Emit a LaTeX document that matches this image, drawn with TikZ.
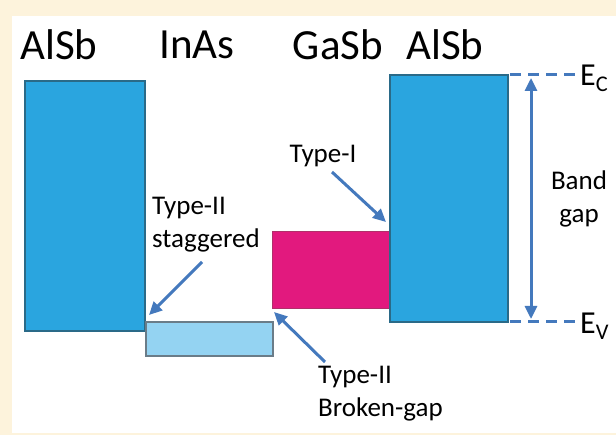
\documentclass[tikz,border=0pt]{standalone}
\usepackage{fontspec}
\setmainfont{Carlito}
\usetikzlibrary{arrows.meta}
\definecolor{beige}{HTML}{FDF3DC}
\definecolor{bandblue}{HTML}{2AA5DF}
\definecolor{bandedge}{HTML}{2A6A88}
\definecolor{lightband}{HTML}{94D3F2}
\definecolor{lightedge}{HTML}{6A7C88}
\definecolor{magenta2}{HTML}{E2197E}
\definecolor{magedge}{HTML}{B0306A}
\definecolor{arrowblue}{HTML}{4479BD}
\tikzset{
  bandbox/.style={draw=bandedge, fill=bandblue, line width=1.5pt, inner sep=0pt, outer sep=0pt, anchor=north west},
  lightbox/.style={draw=lightedge, fill=lightband, line width=1.5pt, inner sep=0pt, outer sep=0pt, anchor=north west},
  magbox/.style={draw=magedge, fill=magenta2, line width=0.8pt, inner sep=0pt, outer sep=0pt, anchor=north west},
  head/.style={font=\fontsize{43}{46}\selectfont, inner sep=0pt},
  lab/.style={font=\fontsize{27}{33}\selectfont, inner sep=0pt},
  pointer/.style={draw=arrowblue, line width=3pt, -{Triangle[length=13pt,width=12pt]}},
  level/.style={draw=arrowblue, line width=3pt, dash pattern=on 11pt off 7pt},
}
\begin{document}
\begin{tikzpicture}[x=1pt,y=-1pt]
\useasboundingbox (0,0) rectangle (616,435);
\fill[beige] (0,0) rectangle (616,435);
\fill[white] (12,16) rectangle (616,433);
% headings
\node[head] (h1) at (59,45) {AlSb};
\node[head] (h2) at (197,45) {InAs};
\node[head] (h3) at (338,45) {GaSb};
\node[head] (h4) at (445,45) {AlSb};
% boxes
\node[bandbox, minimum width=120pt, minimum height=250pt] (alsbL) at (25,81) {};
\node[lightbox, minimum width=127pt, minimum height=34pt] (inas) at (146,322) {};
\node[magbox, minimum width=119pt, minimum height=77pt] (gasb) at (272,231) {};
\node[bandbox, minimum width=118pt, minimum height=247pt] (alsbR) at (390,75) {};
% levels
\coordinate (ecs) at (510,75);
\coordinate (ece) at (575,75);
\coordinate (evs) at (510,322);
\coordinate (eve) at (575,322);
\draw[level] (ecs) -- (ece);
\draw[level] (evs) -- (eve);
\node[font=\fontsize{32}{34}\selectfont, inner sep=0pt, anchor=west] (ec) at (580,78) {E\textsubscript{C}};
\node[font=\fontsize{32}{34}\selectfont, inner sep=0pt, anchor=west] (ev) at (580,326) {E\textsubscript{V}};
% band gap arrow
\coordinate (bgt) at (531,78);
\coordinate (bgb) at (531,319);
\draw[draw=arrowblue, line width=3pt, {Triangle[length=13pt,width=12pt]}-{Triangle[length=13pt,width=12pt]}] (bgt) -- (bgb);
\node[lab, align=center] (bg) at (579,199) {Band\\gap};
% labels
\node[lab] (t1) at (323,156) {Type-I};
\coordinate (t1s) at (332,172);
\coordinate (t1e) at (386,222);
\draw[pointer] (t1s) -- (t1e);
\node[lab, align=left, anchor=west] (t2) at (152,225) {Type-II\\staggered};
\coordinate (t2s) at (202,262);
\coordinate (t2e) at (149,315);
\draw[pointer] (t2s) -- (t2e);
\node[lab, align=left, anchor=west] (t3) at (318,394) {Type-II\\Broken-gap};
\coordinate (t3s) at (325,362);
\coordinate (t3e) at (274,312);
\draw[pointer] (t3s) -- (t3e);
\end{tikzpicture}
\end{document}
